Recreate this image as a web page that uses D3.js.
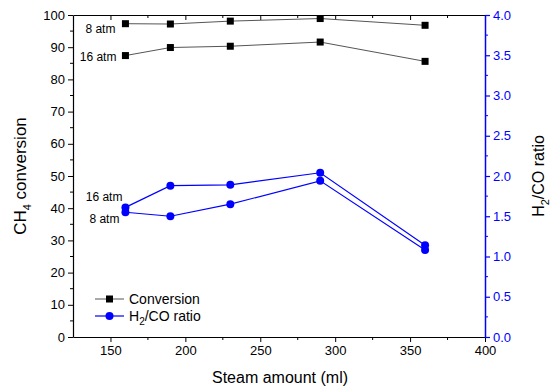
<!DOCTYPE html>
<html>
<head>
<meta charset="utf-8">
<script src="https://cdn.jsdelivr.net/npm/d3@7"></script>
<style>
  body { margin: 0; background: #fff; }
  text { font-family: "Liberation Sans", Arial, sans-serif; }
</style>
</head>
<body>
<script>
'use strict'

var w = 553;
var h = 389;

// data
var steam = [160, 190, 230, 290, 360];
var conv8 = [97.3, 97.2, 98.1, 98.9, 96.8];
var conv16 = [87.4, 89.9, 90.3, 91.6, 85.6];
var ratio8 = [1.55, 1.50, 1.65, 1.94, 1.08];
var ratio16 = [1.61, 1.88, 1.89, 2.04, 1.14];
var xTicks = [150, 200, 250, 300, 350, 400];
var convTicks = [0, 10, 20, 30, 40, 50, 60, 70, 80, 90, 100];
var ratioTicks = [0, 0.5, 1, 1.5, 2, 2.5, 3, 3.5, 4];

var margin = {top: 15, right: 68, bottom: 52, left: 73};
var blue = "#0000ff";

var svg = d3.select("body")
  .append("svg")
  .attr("width", w)
  .attr("height", h);

var x = d3.scaleLinear().domain([125, 400]).range([margin.left, w - margin.right]);
var yL = d3.scaleLinear().domain([0, 100]).range([h - margin.bottom, margin.top]);
var yR = d3.scaleLinear().domain([0, 4]).range([h - margin.bottom, margin.top]);

var x0 = margin.left, x1 = w - margin.right;
var y0 = h - margin.bottom, y1 = margin.top;

// minor ticks
var xMinor = d3.range(175, 400, 50);
var lMinor = d3.range(5, 100, 10);
var rMinor = d3.range(0.25, 4, 0.5);

// bottom axis
var gB = svg.append("g").attr("transform", "translate(0," + y0 + ")")
  .call(d3.axisBottom(x).tickValues(xTicks).tickSize(5).tickSizeOuter(0).tickPadding(4));
gB.selectAll(".tick text").attr("font-size", 13).style("font-family", "Liberation Sans, Arial");
svg.append("g").attr("transform", "translate(0," + y0 + ")")
  .selectAll("line").data(xMinor).enter().append("line")
  .attr("x1", x).attr("x2", x).attr("y1", 0).attr("y2", 3).attr("stroke", "#000");

// top axis, ticks inward
var gT = svg.append("g").attr("transform", "translate(0," + y1 + ")")
  .call(d3.axisTop(x).tickValues(xTicks).tickSize(-5).tickSizeOuter(0).tickFormat(""));
svg.append("g").attr("transform", "translate(0," + y1 + ")")
  .selectAll("line").data(xMinor).enter().append("line")
  .attr("x1", x).attr("x2", x).attr("y1", 0).attr("y2", 3).attr("stroke", "#000");

// left axis
var gL = svg.append("g").attr("transform", "translate(" + x0 + ",0)")
  .call(d3.axisLeft(yL).tickValues(convTicks).tickSize(5).tickSizeOuter(0).tickPadding(3));
gL.selectAll(".tick text").attr("font-size", 13).style("font-family", "Liberation Sans, Arial");
svg.append("g").attr("transform", "translate(" + x0 + ",0)")
  .selectAll("line").data(lMinor).enter().append("line")
  .attr("x1", -3).attr("x2", 0).attr("y1", yL).attr("y2", yL).attr("stroke", "#000");

// right axis (blue)
var gR = svg.append("g").attr("transform", "translate(" + x1 + ",0)")
  .call(d3.axisRight(yR).tickValues(ratioTicks).tickSize(5).tickSizeOuter(0).tickPadding(3)
    .tickFormat(d3.format(".1f")));
gR.select(".domain").attr("stroke", blue).attr("stroke-width", 1.5);
gR.selectAll(".tick line").attr("stroke", blue).attr("stroke-width", 1.2);
gR.selectAll(".tick text").attr("fill", blue).attr("font-size", 13).style("font-family", "Liberation Sans, Arial");
svg.append("g").attr("transform", "translate(" + x1 + ",0)")
  .selectAll("line").data(rMinor).enter().append("line")
  .attr("x1", 0).attr("x2", 3).attr("y1", yR).attr("y2", yR).attr("stroke", blue);

svg.selectAll(".domain").filter(function() { return d3.select(this).attr("stroke") !== blue; })
  .attr("stroke-width", 1.2);

// series lines
var lineL = d3.line().x(function(d, i) { return x(steam[i]); }).y(function(d) { return yL(d); });
var lineR = d3.line().x(function(d, i) { return x(steam[i]); }).y(function(d) { return yR(d); });

[conv8, conv16].forEach(function(s) {
  svg.append("path").attr("d", lineL(s)).attr("fill", "none").attr("stroke", "#555").attr("stroke-width", 1);
  svg.selectAll(null).data(s).enter().append("rect")
    .attr("x", function(d, i) { return x(steam[i]) - 3.5; })
    .attr("y", function(d) { return yL(d) - 3.5; })
    .attr("width", 7).attr("height", 7).attr("fill", "#000");
});

[ratio8, ratio16].forEach(function(s) {
  svg.append("path").attr("d", lineR(s)).attr("fill", "none").attr("stroke", blue).attr("stroke-width", 1.2);
  svg.selectAll(null).data(s).enter().append("circle")
    .attr("cx", function(d, i) { return x(steam[i]); })
    .attr("cy", function(d) { return yR(d); })
    .attr("r", 4).attr("fill", blue);
});

// series labels
function label(t, px, py) {
  svg.append("text").attr("x", px).attr("y", py).attr("text-anchor", "end")
    .attr("font-size", 12).text(t);
}
label("8 atm", x(160) - 10, yL(conv8[0]) + 9);
label("16 atm", x(160) - 9, yL(conv16[0]) + 5);
label("16 atm", x(160) - 3, yR(ratio16[0]) - 6);
label("8 atm", x(160) - 6, yR(ratio8[0]) + 11);

// legend
var leg = [
  {name: "Conversion", color: "#555", mark: "#000", sq: true},
  {name: "H2/CO ratio", color: blue, mark: blue, sq: false}
];
leg.forEach(function(d, i) {
  var ly = 299 + i * 17;
  svg.append("line").attr("x1", 95).attr("x2", 124).attr("y1", ly).attr("y2", ly)
    .attr("stroke", d.color).attr("stroke-width", d.sq ? 1 : 1.2);
  if (d.sq) {
    svg.append("rect").attr("x", 106).attr("y", ly - 3.5).attr("width", 7).attr("height", 7).attr("fill", d.mark);
  } else {
    svg.append("circle").attr("cx", 109.5).attr("cy", ly).attr("r", 4).attr("fill", d.mark);
  }
  var t = svg.append("text").attr("x", 129).attr("y", ly + 5).attr("font-size", 14);
  if (d.sq) {
    t.text(d.name);
  } else {
    t.append("tspan").text("H");
    t.append("tspan").attr("font-size", 10).attr("dy", 4).text("2");
    t.append("tspan").attr("dy", -4).text("/CO ratio");
  }
});

// axis titles
svg.append("text").attr("x", (x0 + x1) / 2 + 1).attr("y", 383).attr("text-anchor", "middle")
  .attr("font-size", 16).text("Steam amount (ml)");

var tl = svg.append("text").attr("transform", "translate(26," + ((y0 + y1) / 2) + ") rotate(-90)")
  .attr("text-anchor", "middle").attr("font-size", 17);
tl.append("tspan").text("CH");
tl.append("tspan").attr("font-size", 11).attr("dy", 5).text("4");
tl.append("tspan").attr("dy", -5).text(" conversion");

var tr = svg.append("text").attr("transform", "translate(544," + ((y0 + y1) / 2) + ") rotate(-90)")
  .attr("text-anchor", "middle").attr("font-size", 16);
tr.append("tspan").text("H");
tr.append("tspan").attr("font-size", 11).attr("dy", 5).text("2");
tr.append("tspan").attr("dy", -5).text("/CO ratio");
</script>
</body>
</html>
